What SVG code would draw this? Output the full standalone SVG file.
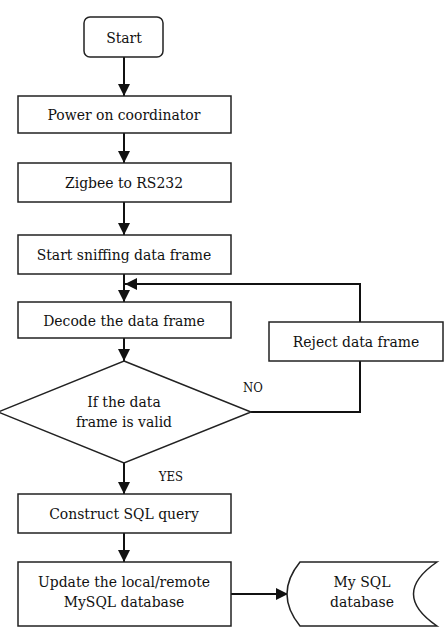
<svg xmlns="http://www.w3.org/2000/svg" width="447" height="635" viewBox="0 0 447 635">
<style>
.box{fill:#fff;stroke:#222;stroke-width:1.5}
.t{font-family:'DejaVu Serif Condensed','DejaVu Serif',serif;font-stretch:condensed;font-size:15.5px;fill:#111;text-anchor:middle}
.lbl{font-family:'DejaVu Serif Condensed','DejaVu Serif',serif;font-stretch:condensed;font-size:13px;fill:#111;text-anchor:middle}
.c{fill:none;stroke:#111;stroke-width:2}
</style>
<defs>
<marker id="ah" markerUnits="userSpaceOnUse" markerWidth="12" markerHeight="12" refX="12" refY="6" orient="auto">
<path d="M0,0 L12,6 L0,12 z" fill="#111"/>
</marker>
</defs>
<rect width="447" height="635" fill="#fff"/>
<g id="connectors">
<line class="c" x1="124" y1="57" x2="124" y2="96" marker-end="url(#ah)"/>
<line class="c" x1="124" y1="133" x2="124" y2="163" marker-end="url(#ah)"/>
<line class="c" x1="124" y1="202" x2="124" y2="235" marker-end="url(#ah)"/>
<line class="c" x1="124" y1="274" x2="124" y2="302" marker-end="url(#ah)"/>
<polyline class="c" points="251,412 360,412 360,361"/>
<polyline class="c" points="360,322 360,284 125,284" marker-end="url(#ah)"/>
<line class="c" x1="124" y1="338" x2="124" y2="361" marker-end="url(#ah)"/>
<line class="c" x1="124" y1="463" x2="124" y2="494" marker-end="url(#ah)"/>
<line class="c" x1="124" y1="533" x2="124" y2="562" marker-end="url(#ah)"/>
<line class="c" x1="231" y1="594" x2="288" y2="594" marker-end="url(#ah)"/>
<text class="lbl" x="253" y="392">NO</text>
<text class="lbl" x="171" y="481">YES</text>
</g>
<g id="start">
<rect class="box" x="84" y="17" width="79" height="40" rx="6"/>
<text class="t" x="124" y="42.5">Start</text>
</g>
<g id="power">
<rect class="box" x="18" y="96" width="213" height="37"/>
<text class="t" x="124" y="120">Power on coordinator</text>
</g>
<g id="zigbee">
<rect class="box" x="18" y="163" width="213" height="39"/>
<text class="t" x="124" y="188">Zigbee to RS232</text>
</g>
<g id="sniff">
<rect class="box" x="18" y="235" width="213" height="39"/>
<text class="t" x="124" y="260">Start sniffing data frame</text>
</g>
<g id="decode">
<rect class="box" x="18" y="302" width="213" height="36"/>
<text class="t" x="124" y="325.5">Decode the data frame</text>
</g>
<g id="reject">
<rect class="box" x="269" y="322" width="174" height="39"/>
<text class="t" x="356" y="347">Reject data frame</text>
</g>
<g id="valid">
<polygon class="box" points="124,361 251,412 124,463 -2,412"/>
<text class="t" x="124" y="407">If the data</text>
<text class="t" x="124" y="427">frame is valid</text>
</g>
<g id="construct">
<rect class="box" x="18" y="494" width="213" height="39"/>
<text class="t" x="124" y="519">Construct SQL query</text>
</g>
<g id="update">
<rect class="box" x="18" y="562" width="213" height="64"/>
<text class="t" x="124" y="587">Update the local/remote</text>
<text class="t" x="124" y="607">MySQL database</text>
</g>
<g id="mysql">
<path class="box" d="M300,562 L437,562 Q390,594 437,626 L300,626 Q274,594 300,562 Z"/>
<text class="t" x="362" y="587">My SQL</text>
<text class="t" x="362" y="607">database</text>
</g>
</svg>
